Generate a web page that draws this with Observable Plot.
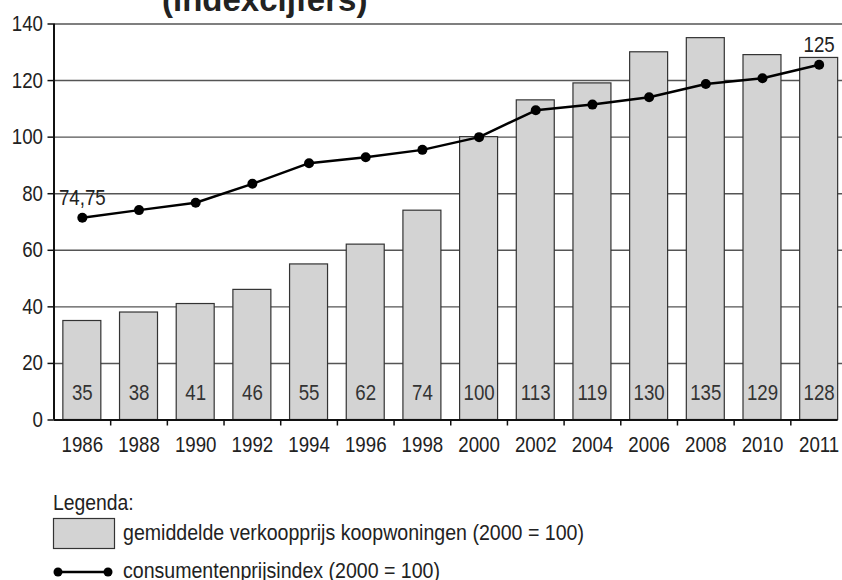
<!DOCTYPE html>
<html><head><meta charset="utf-8">
<script src="https://cdn.jsdelivr.net/npm/d3@7"></script>
<script src="https://cdn.jsdelivr.net/npm/@observablehq/plot@0.6"></script>
<style>
body{margin:0;background:#fff;width:842px;height:580px;overflow:hidden;position:relative;font-family:"Liberation Sans",Arial,sans-serif;color:#222;}
#title{position:absolute;left:162px;top:-17px;font:bold 33px "Liberation Sans",Arial,sans-serif;line-height:1;color:#222;white-space:nowrap;}
#chart{position:absolute;left:0;top:0;}
#legend{position:absolute;left:0;top:460px;}
</style></head><body>
<div id="title">(indexcijfers)</div>
<div id="chart"></div>
<div id="legend"></div>
<script>
const years = ["1986","1988","1990","1992","1994","1996","1998","2000","2002","2004","2006","2008","2010","2011"];
const housePrice = [35,38,41,46,55,62,74,100,113,119,130,135,129,128];
const cpi = [71.5,74.2,76.8,83.5,90.8,92.9,95.5,100,109.5,111.5,114.1,118.8,120.8,125.6];
const cpiLabels = ["74,75","","","","","","","","","","","","","125"];
const yTicks = [0,20,40,60,80,100,120,140];
const legendTitle = "Legenda:";
const seriesNames = ["gemiddelde verkoopprijs koopwoningen (2000 = 100)","consumentenprijsindex (2000 = 100)"];

const FONT = '"Liberation Sans",Arial,sans-serif';
const data = years.map((y,i)=>({i, year:y, price:housePrice[i], cpi:cpi[i], label:cpiLabels[i]}));
const pad = 0.165;
const cx = d => d.i + 0.5;

const plot = Plot.plot({
  width: 842, height: 460,
  marginTop: 23.5, marginBottom: 40.5, marginLeft: 53.5, marginRight: 0,
  style: {fontFamily: FONT, fontSize: "22px", color: "#222", background: "transparent", overflow: "visible"},
  x: {domain: [0, years.length], range: [53.5, 847]},
  y: {domain: [0, 140]},
  marks: [
    Plot.ruleY(yTicks.filter(d => d > 0), {stroke: "#555", strokeWidth: 1.4}),
    Plot.rectY(data, {x1: d => d.i + pad, x2: d => d.i + 1 - pad, y: "price", fill: "#d3d3d3", stroke: "#333", strokeWidth: 1.2}),
    Plot.ruleY([0], {x1: () => 0, x2: () => years.length - pad, stroke: "#111", strokeWidth: 2}),
    Plot.ruleX([0], {y1: () => 0, y2: () => 140, stroke: "#111", strokeWidth: 2}),
    Plot.axisY({ticks: yTicks, tickSize: 6, tickPadding: 5, fontSize: 22, stroke: "#111", strokeWidth: 1.5, label: null, fill: "#222"}),
    Plot.axisX({ticks: d3.range(1, years.length), tickSize: 6, tickFormat: () => "", label: null, stroke: "#111", strokeWidth: 1.5}),
    Plot.axisX({ticks: years.map((_, i) => i + 0.5), tickSize: 0, tickPadding: 16, tickFormat: v => years[Math.floor(v)], fontSize: 22, label: null, fill: "#222"}),
    Plot.text(data, {x: cx, y: () => 0, text: d => String(d.price), dy: -27, fontSize: 22, fill: "#333"}),
    Plot.line(data, {x: cx, y: "cpi", stroke: "#000", strokeWidth: 2.5}),
    Plot.dot(data, {x: cx, y: "cpi", r: 5, fill: "#000", stroke: "none"}),
    Plot.text(data.filter(d => d.label), {x: cx, y: "cpi", text: "label", dy: -20, fontSize: 22, fill: "#222"})
  ]
});
document.getElementById("chart").appendChild(plot);

// Legend
const lg = d3.select("#legend").append("svg").attr("width", 842).attr("height", 120)
  .style("font-family", FONT);
const lt = lg.append("text").attr("x", 53).attr("y", 42).attr("dominant-baseline", "central")
  .attr("font-size", 22).attr("fill", "#222").text(legendTitle);
lg.append("rect").attr("x", 53.5).attr("y", 58.5).attr("width", 61).attr("height", 30)
  .attr("fill", "#d3d3d3").attr("stroke", "#333").attr("stroke-width", 1.2);
lg.append("text").attr("x", 123).attr("y", 72).attr("dominant-baseline", "central")
  .attr("font-size", 22).attr("fill", "#222").attr("textLength", 461).attr("lengthAdjust", "spacingAndGlyphs").text(seriesNames[0]);
lg.append("line").attr("x1", 58).attr("x2", 108).attr("y1", 112).attr("y2", 112)
  .attr("stroke", "#000").attr("stroke-width", 2.5);
lg.selectAll("circle.e").data([58, 108]).join("circle").attr("cx", d => d).attr("cy", 112).attr("r", 4.5).attr("fill", "#000");
lg.append("text").attr("x", 123).attr("y", 110).attr("dominant-baseline", "central")
  .attr("font-size", 22).attr("fill", "#222").attr("textLength", 317).attr("lengthAdjust", "spacingAndGlyphs").text(seriesNames[1]);

// condensed look: squeeze glyphs horizontally
function squeeze(nodes, k) {
  nodes.forEach(t => {
    if (t.hasAttribute("textLength")) return;
    const L = t.getComputedTextLength();
    if (L > 0) { t.setAttribute("textLength", (L * k).toFixed(2)); t.setAttribute("lengthAdjust", "spacingAndGlyphs"); }
  });
}
squeeze(plot.querySelectorAll("text"), 0.85);
squeeze([lt.node()], 0.88);
</script>
</body></html>
